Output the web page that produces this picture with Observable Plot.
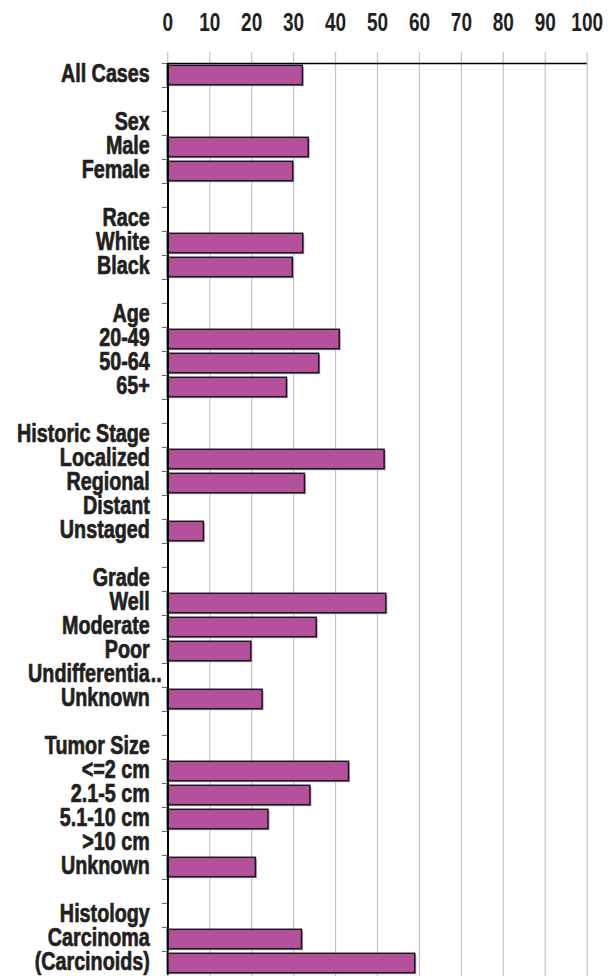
<!DOCTYPE html>
<html>
<head>
<meta charset="utf-8">
<script src="https://cdn.jsdelivr.net/npm/d3@7"></script>
<script src="https://cdn.jsdelivr.net/npm/@observablehq/plot@0.6"></script>
<style>
  html, body { margin: 0; padding: 0; background: white; }
</style>
</head>
<body>
<div id="chart"></div>
<script>
const labels = ["All Cases","","Sex","Male","Female","","Race","White","Black","","Age","20-49","50-64","65+","","Historic Stage","Localized","Regional","Distant","Unstaged","","Grade","Well","Moderate","Poor","Undifferentia","Unknown","","Tumor Size","<=2 cm","2.1-5 cm","5.1-10 cm",">10 cm","Unknown","","Histology","Carcinoma","(Carcinoids)"];
const values = [32.2,null,null,33.6,29.9,null,null,32.3,29.8,null,null,41.0,36.1,28.4,null,null,51.7,32.7,null,8.6,null,null,52.1,35.5,19.9,null,22.6,null,null,43.2,34.0,24.0,null,21.0,null,null,32.0,59.0];
const xTicks = [0,10,20,30,40,50,60,70,80,90,100];
const truncMark = "..";

const rows = labels.map((label, i) => ({id: i, label, value: values[i]}));
const bars = rows.filter(d => d.value != null);
const yTop = 60.5, yBottom = 976.5;
const half = (yBottom - yTop) / rows.length / 2;
const font = "'Liberation Sans', Arial, sans-serif";
const ink = "#231f20";

const chart = Plot.plot({
  width: 615,
  height: 976,
  marginTop: 52,
  marginLeft: 167,
  marginRight: 28,
  marginBottom: 0,
  style: {fontFamily: font, fontWeight: "bold", fontSize: "24px", color: ink, background: "white"},
  x: {domain: [0, 100], range: [167.3, 586.7]},
  y: {domain: rows.map(d => d.id), range: [yTop, yBottom], padding: 0, axis: null},
  marks: [
    Plot.ruleX(xTicks, {stroke: "#c4c4c4", strokeWidth: 1.2}),
    Plot.ruleY(rows, {y: "id", x1: -1.3, x2: 0, dy: -half, stroke: "#666"}),
    Plot.ruleY(rows.slice(0, 1), {y: "id", x1: 0, x2: 100, dy: -half, stroke: "black", strokeWidth: 1.5}),
    Plot.barX(bars, {y: "id", x: "value", fill: "#a0a0a0", insetTop: 2.3, insetBottom: 2.3, dx: 1.5, dy: 1.5}),
    Plot.barX(bars, {y: "id", x: "value", fill: "#b4519c", stroke: "#1a1a1a", strokeWidth: 1.5, insetTop: 2.3, insetBottom: 2.3}),
    Plot.ruleX(rows, {x: 0, y: "id", stroke: "black", strokeWidth: 1.5}),
    Plot.text(rows, {x: 0, y: "id", text: "label", textAnchor: "end", dx: -18, dy: -2, fontSize: 25, fontWeight: "bold", fill: ink, stroke: ink, strokeWidth: 0.7, className: "rowlab"}),
    Plot.text(rows.filter(d => d.label === "Undifferentia"), {x: 0, y: "id", text: () => truncMark, textAnchor: "start", dx: -17, dy: -2, fontSize: 25, fontWeight: "bold", fill: ink, stroke: ink, strokeWidth: 0.7, className: "rowlab"}),
    Plot.axisX({anchor: "top", ticks: xTicks, tickSize: 0, tickPadding: 22, label: null, fontSize: 25, fontWeight: "bold", fill: ink, stroke: ink, strokeWidth: 0.7, className: "ticklab"})
  ]
});

// condense glyphs horizontally (narrow typeface look) around each text's anchor
function condense(sel, k) {
  chart.querySelectorAll(sel).forEach(t => {
    const tr = t.getAttribute("transform");
    if (tr) {
      t.setAttribute("transform", tr + ` scale(${k},1)`);
    } else {
      const x = +(t.getAttribute("x") || 0), y = +(t.getAttribute("y") || 0);
      t.removeAttribute("x"); t.removeAttribute("y");
      t.setAttribute("transform", `translate(${x},${y}) scale(${k},1)`);
    }
  });
}
condense(".rowlab text", 0.79);
condense(".ticklab text", 0.76);
document.getElementById("chart").appendChild(chart);
</script>
</body>
</html>
